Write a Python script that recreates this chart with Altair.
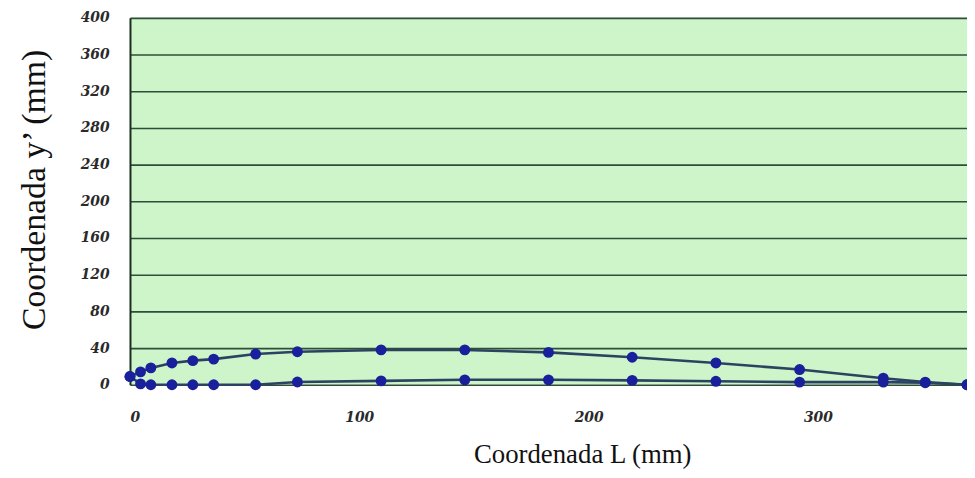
import altair as alt
import pandas as pd

# Station positions along the chord (mm), shared by both surfaces
L_mm = [0, 4.6, 9.1, 18.3, 27.4, 36.5, 54.8, 73, 109.5, 146, 182.5, 219, 255.5, 292, 328.5, 346.8, 365]
# Upper surface y' (mm)
upper_y = [9, 14, 18.4, 23.8, 26.3, 28, 33.5, 36, 38, 38, 35.3, 30, 23.8, 16.6, 7.2, 2.9, 0]
# Lower surface y' (mm)
lower_y = [9, 1, 0, 0, 0, 0, 0, 3, 4.3, 5.4, 5.4, 4.8, 3.8, 2.9, 2.9, 2.2, 0]

x_ticks = [0, 100, 200, 300]
y_ticks = [0, 40, 80, 120, 160, 200, 240, 280, 320, 360, 400]

rows = []
for i, (x, yu) in enumerate(zip(L_mm, upper_y)):
    rows.append({"L": x, "y": yu, "surface": "superior", "idx": i})
for i, (x, yl) in enumerate(zip(L_mm, lower_y)):
    rows.append({"L": x, "y": yl, "surface": "inferior", "idx": i})
df = pd.DataFrame(rows)

x_enc = alt.X(
    "L:Q",
    scale=alt.Scale(domain=[0, 365], nice=False, zero=False),
    axis=alt.Axis(
        values=x_ticks,
        title="Coordenada L (mm)",
        grid=False,
        domain=False,
        ticks=False,
        labelPadding=26,
        labelBaseline="top",
        labelFont="DejaVu Serif",
        labelFontSize=14,
        labelFontWeight="bold",
        labelFontStyle="italic",
        labelColor="#2a2a2a",
        titleFont="Liberation Serif",
        titleFontSize=27,
        titleFontWeight="normal",
        titleColor="#111111",
        titleAnchor="start",
        titleAlign="center",
        titleBaseline="middle",
        titleX=456,
        titleY=70,
    ),
)
y_enc = alt.Y(
    "y:Q",
    scale=alt.Scale(domain=[0, 400], nice=False),
    axis=alt.Axis(
        values=y_ticks,
        title="Coordenada y\u2019 (mm)",
        grid=True,
        gridColor="#2f4d39",
        gridWidth=1.6,
        gridOpacity=1,
        domain=True,
        domainColor="#1a2e1e",
        domainWidth=2,
        ticks=False,
        labelPadding=21,
        labelFont="DejaVu Serif",
        labelFontSize=14,
        labelFontWeight="bold",
        labelFontStyle="italic",
        labelColor="#2a2a2a",
        titleFont="Liberation Serif",
        titleFontSize=34,
        titleFontWeight="normal",
        titleColor="#111111",
        titleAnchor="start",
        titleAlign="center",
        titleBaseline="middle",
        titleAngle=270,
        titleX=-96,
        titleY=173,
    ),
)

lines = alt.Chart(df).mark_line(strokeWidth=2.6, color="#2c4262").encode(
    x=x_enc, y=y_enc, detail="surface:N", order="idx:Q"
)
points = alt.Chart(df).mark_point(
    filled=True, size=120, color="#1a1f9c", opacity=1
).encode(x=x_enc, y=y_enc)

chart = (
    alt.layer(lines, points)
    .properties(
        width=844,
        height=370,
        autosize=alt.AutoSizeParams(type="none"),
        padding={"left": 123, "top": 8, "right": 0, "bottom": 84},
        background="white",
    )
    .configure_view(fill="#cdf5c9", stroke=None)
)

chart.save("out.html", embed_options={"renderer": "svg", "actions": False})
